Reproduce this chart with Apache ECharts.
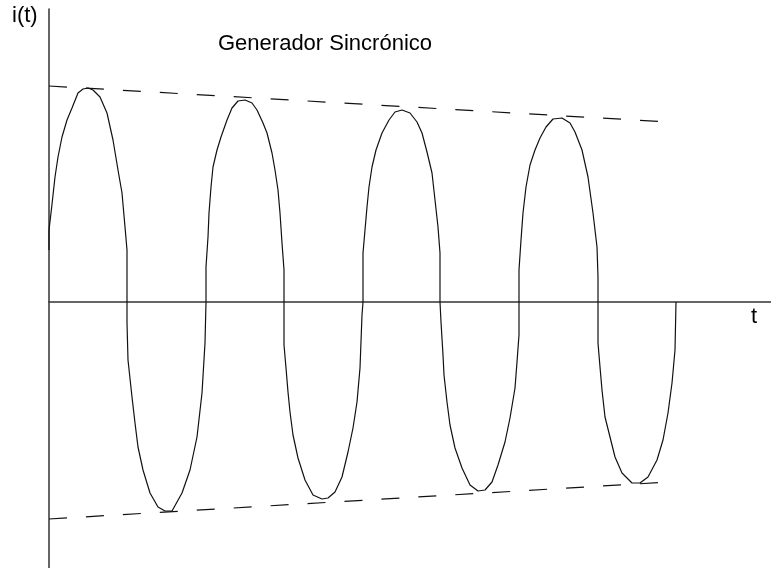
<!DOCTYPE html>
<html>
<head>
<meta charset="utf-8">
<title>Generador Sincrónico</title>
<script src="https://cdn.jsdelivr.net/npm/echarts@6/dist/echarts.min.js"></script>
<style>
  html, body { margin: 0; padding: 0; background: #fff; }
  #chart { width: 771px; height: 568px; }
</style>
</head>
<body>
<div id="chart"></div>
<script>
// t, i(t), one array per half wave
const halfWave1 = [[0, 52], [0, 72], [2.7, 95], [6, 125], [9, 145], [13, 165], [18, 182], [23, 194], [29, 209], [34, 213], [39, 214], [44, 212], [51, 205], [58, 189], [64, 162], [69, 132], [73, 109], [76, 75], [78, 52], [78, 0]];
const halfWave2 = [[78, -21], [79, -58], [83, -95], [86, -121], [89, -145], [94, -168], [101, -191], [109, -205], [116, -209], [123, -209], [133, -191], [141, -168], [148, -135], [153, -91], [156, -41], [157, 0]];
const halfWave3 = [[157, 35], [159, 65], [160, 89], [162, 115], [164, 135], [168, 152], [172, 165], [178, 182], [183, 194], [189, 201], [196, 202], [203, 199], [208, 192], [214, 179], [218, 169], [223, 149], [226, 132], [229, 112], [231, 89], [233, 59], [235, 32], [235, 0]];
const halfWave4 = [[235, -43], [237, -66], [239, -90], [241, -110], [244, -133], [249, -156], [256, -178], [264, -193], [273, -197], [279, -196], [286, -190], [293, -175], [299, -150], [304, -126], [308, -100], [311, -66], [313, -13], [314, 0]];
const halfWave5 = [[314, 49], [316, 72], [318, 95], [320, 115], [323, 135], [327, 152], [333, 169], [340, 182], [346, 190], [353, 192], [361, 189], [368, 180], [373, 169], [378, 150], [383, 129], [386, 102], [389, 75], [391, 49], [391, 0]];
const halfWave6 = [[392, -20], [394, -53], [395, -73], [398, -100], [401, -123], [406, -146], [413, -166], [421, -183], [429, -189], [436, -188], [443, -180], [449, -163], [456, -140], [461, -116], [466, -86], [468, -60], [470, -33], [470, 0]];
const halfWave7 = [[470, 32], [472, 62], [474, 89], [477, 115], [481, 137], [486, 152], [491, 164], [497, 175], [504, 183], [513, 184], [521, 179], [526, 170], [533, 152], [539, 125], [544, 89], [548, 55], [549, 25], [549, 0]];
const halfWave8 = [[549, -41], [551, -65], [553, -88], [556, -115], [561, -135], [566, -155], [573, -171], [583, -181], [591, -181], [599, -175], [608, -158], [614, -138], [619, -111], [623, -81], [626, -48], [627, 0]];

// decaying envelope (dashed)
const upperEnvelope = [[0, 216], [620, 180]];
const lowerEnvelope = [[0, -217], [620, -180]];

const titleText = "Generador Sincrónico";
const yName = "i(t)";
const xName = "t";

const current = [halfWave1, halfWave2, halfWave3, halfWave4, halfWave5, halfWave6, halfWave7, halfWave8].flat();

const chart = echarts.init(document.getElementById("chart"), null, { renderer: "canvas" });

const axisLine = { show: true, onZero: true, lineStyle: { color: "#333", width: 1.5 } };
const textFont = { fontFamily: "Liberation Sans, Arial, sans-serif", fontSize: 22, fill: "#000" };

chart.setOption({
  animation: false,
  backgroundColor: "#fff",
  grid: { left: 49, right: 0, top: 9, bottom: 0 },
  xAxis: {
    type: "value", min: 0, max: 722,
    axisLine, axisTick: { show: false }, axisLabel: { show: false }, splitLine: { show: false }
  },
  yAxis: {
    type: "value", min: -266, max: 293,
    axisLine, axisTick: { show: false }, axisLabel: { show: false }, splitLine: { show: false }
  },
  graphic: [
    { type: "text", left: 218, top: 33, style: { ...textFont, text: titleText } },
    { type: "text", left: 12, top: 5, style: { ...textFont, text: yName } },
    { type: "text", left: 751, top: 306, style: { ...textFont, text: xName } }
  ],
  series: [
    {
      type: "line", data: current, showSymbol: false, smooth: false,
      lineStyle: { color: "#111", width: 1.2 }, z: 3
    },
    {
      type: "line", data: upperEnvelope, showSymbol: false,
      lineStyle: { color: "#111", width: 1.2, type: [18, 19] }
    },
    {
      type: "line", data: lowerEnvelope, showSymbol: false,
      lineStyle: { color: "#111", width: 1.2, type: [18, 19] }
    }
  ]
});
</script>
</body>
</html>
